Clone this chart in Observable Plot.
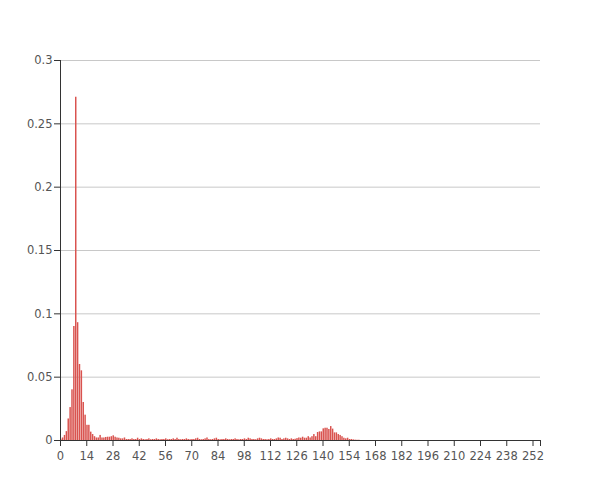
<!DOCTYPE html>
<html>
<head>
<meta charset="utf-8">
<script src="https://cdn.jsdelivr.net/npm/d3@7"></script>
<script src="https://cdn.jsdelivr.net/npm/@observablehq/plot@0.6"></script>
<style>
  html, body { margin: 0; padding: 0; background: #fff; }
  #chart svg { display: block; }
</style>
</head>
<body>
<div id="chart"></div>
<script>
// Bin frequencies, one per integer bin starting at 0 (bins beyond the list are empty)
const freq = [
  0.001, 0.002, 0.004, 0.007, 0.017, 0.026, 0.040, 0.090, 0.271, 0.093,
  0.060, 0.055, 0.030, 0.020, 0.012, 0.012, 0.0066, 0.0047, 0.003, 0.002,
  0.002, 0.004, 0.002, 0.002, 0.0024, 0.0026, 0.0026, 0.003, 0.0037, 0.0026,
  0.002, 0.0018, 0.0013, 0.0013, 0.002, 0.0008, 0.0008, 0.0008, 0.0013, 0.0008,
  0.0008, 0.0018, 0.0008, 0.0013, 0.0008, 0.0006, 0.0008, 0.0013, 0.0006, 0.0008,
  0.0008, 0.0013, 0.0008, 0.0006, 0.0008, 0.0008, 0.0013, 0.0006, 0.0008, 0.0008,
  0.0013, 0.0008, 0.0018, 0.0008, 0.0006, 0.0008, 0.0008, 0.0013, 0.0008, 0.0006,
  0.0008, 0.0008, 0.0013, 0.0018, 0.0008, 0.0006, 0.0008, 0.0013, 0.002, 0.0008,
  0.0006, 0.0008, 0.0013, 0.0018, 0.0008, 0.0006, 0.0008, 0.0008, 0.0013, 0.0008,
  0.0006, 0.0008, 0.0008, 0.0013, 0.0008, 0.0006, 0.0008, 0.0008, 0.0013, 0.0008,
  0.0018, 0.0013, 0.0008, 0.0008, 0.0006, 0.0013, 0.0018, 0.0013, 0.0008, 0.0008,
  0.0006, 0.0008, 0.0013, 0.0008, 0.0008, 0.0013, 0.002, 0.0018, 0.0008, 0.0013,
  0.0018, 0.0013, 0.0008, 0.0013, 0.0008, 0.001, 0.0015, 0.002, 0.0018, 0.0026,
  0.0018, 0.0018, 0.003, 0.002, 0.003, 0.0047, 0.003, 0.0063, 0.0068, 0.0068,
  0.0092, 0.0097, 0.0097, 0.0087, 0.011, 0.009, 0.006, 0.006, 0.0047, 0.004,
  0.003, 0.0018, 0.0013, 0.0018, 0.0008, 0.0008, 0.0005, 0.0003, 0.0002, 0.0002
];
const xDomain = [0, 256];
const xTicks = [0, 14, 28, 42, 56, 70, 84, 98, 112, 126, 140, 154, 168, 182, 196, 210, 224, 238, 252];
const yTicks = [0, 0.05, 0.1, 0.15, 0.2, 0.25, 0.3];

const bins = freq.map((v, i) => ({x1: i, x2: i + 1, v}));

const axisColor = "#333";
const textColor = "#555";

const chart = Plot.plot({
  width: 600,
  height: 500,
  marginLeft: 60,
  marginRight: 60,
  marginTop: 60,
  marginBottom: 60,
  style: {fontFamily: "DejaVu Sans, Verdana, sans-serif", fontSize: "11.5px", background: "#fff", color: textColor},
  x: {domain: xDomain},
  y: {domain: [0, 0.3]},
  marks: [
    Plot.gridY(yTicks, {stroke: "#c8c8c8", strokeOpacity: 1}),
    Plot.rectY(bins, {x1: "x1", x2: "x2", y: "v", fill: "#d9534f", insetRight: 0.4}),
    Plot.axisY(yTicks, {tickSize: 6, tickPadding: 2, stroke: axisColor, fill: textColor, tickFormat: d => String(d), label: null}),
    Plot.axisX(xTicks, {tickSize: 6, tickPadding: 5, stroke: axisColor, fill: textColor, tickFormat: d => String(d), label: null}),
    Plot.axisX([256], {tickSize: 6, stroke: axisColor, tickFormat: () => "", label: null}),
    Plot.ruleX([0], {stroke: axisColor}),
    Plot.ruleY([0], {stroke: axisColor})
  ]
});
document.getElementById("chart").appendChild(chart);
</script>
</body>
</html>
